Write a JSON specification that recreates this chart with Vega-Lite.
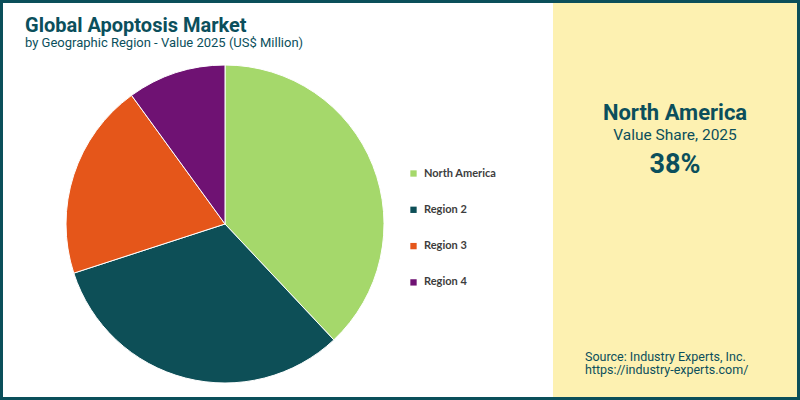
{
  "$schema": "https://vega.github.io/schema/vega-lite/v6.json",
  "background": "#0b4f5a",
  "padding": 3,
  "spacing": 0,
  "datasets": {
    "regions": [
      {"region": "North America", "share": 38, "idx": 1},
      {"region": "Region 2", "share": 32, "idx": 2},
      {"region": "Region 3", "share": 20, "idx": 3},
      {"region": "Region 4", "share": 10, "idx": 4}
    ],
    "labels": [
      {
        "title": "Global Apoptosis Market",
        "subtitle": "by Geographic Region - Value 2025 (US$ Million)",
        "focus": "North America",
        "metric": "Value Share, 2025",
        "value": "38%",
        "source": "Source: Industry Experts, Inc.",
        "url": "https://industry-experts.com/"
      }
    ]
  },
  "hconcat": [
    {
      "width": 550,
      "height": 394,
      "view": {"fill": "white", "stroke": null},
      "layer": [
        {
          "data": {"name": "regions"},
          "mark": {"type": "arc", "x": 222, "y": 221, "outerRadius": 159, "stroke": "white", "strokeWidth": 1},
          "encoding": {
            "theta": {"field": "share", "type": "quantitative", "stack": true},
            "order": {"field": "idx", "type": "quantitative"},
            "color": {
              "field": "region",
              "type": "nominal",
              "scale": {
                "domain": ["North America", "Region 2", "Region 3", "Region 4"],
                "range": ["#a5d86b", "#0d4f57", "#e5561a", "#6f1273"]
              },
              "legend": {
                "title": null,
                "orient": "none",
                "legendX": 405,
                "legendY": 165,
                "symbolType": "square",
                "symbolSize": 40,
                "symbolStrokeWidth": 0,
                "labelFont": "Lato",
                "labelFontWeight": "bold",
                "labelFontSize": 11,
                "labelColor": "#3d3d3d",
                "labelOffset": 5,
                "rowPadding": 24.3
              }
            }
          }
        },
        {
          "data": {"name": "labels"},
          "mark": {"type": "text", "x": 22, "y": 29, "align": "left", "baseline": "alphabetic", "font": "Roboto", "fontWeight": "bold", "fontSize": 20, "color": "#0b4f5c"},
          "encoding": {"text": {"field": "title", "type": "nominal"}}
        },
        {
          "data": {"name": "labels"},
          "mark": {"type": "text", "x": 22, "y": 44, "align": "left", "baseline": "alphabetic", "font": "Roboto", "fontSize": 13, "color": "#0b4f5c"},
          "encoding": {"text": {"field": "subtitle", "type": "nominal"}}
        }
      ]
    },
    {
      "width": 244,
      "height": 394,
      "view": {"fill": "#fdf1b1", "stroke": null},
      "data": {"name": "labels"},
      "layer": [
        {
          "mark": {"type": "text", "x": 122, "y": 117, "align": "center", "baseline": "alphabetic", "font": "Roboto", "fontWeight": "bold", "fontSize": 22, "color": "#0b4f5c"},
          "encoding": {"text": {"field": "focus", "type": "nominal"}}
        },
        {
          "mark": {"type": "text", "x": 122, "y": 137, "align": "center", "baseline": "alphabetic", "font": "Roboto", "fontSize": 15.5, "color": "#0b4f5c"},
          "encoding": {"text": {"field": "metric", "type": "nominal"}}
        },
        {
          "mark": {"type": "text", "x": 122, "y": 170, "align": "center", "baseline": "alphabetic", "font": "Roboto", "fontWeight": "bold", "fontSize": 27, "color": "#0b4f5c"},
          "encoding": {"text": {"field": "value", "type": "nominal"}}
        },
        {
          "mark": {"type": "text", "x": 32, "y": 358, "align": "left", "baseline": "alphabetic", "font": "Roboto", "fontSize": 12.5, "color": "#0b4f5c"},
          "encoding": {"text": {"field": "source", "type": "nominal"}}
        },
        {
          "mark": {"type": "text", "x": 32, "y": 371, "align": "left", "baseline": "alphabetic", "font": "Roboto", "fontSize": 12.5, "color": "#0b4f5c"},
          "encoding": {"text": {"field": "url", "type": "nominal"}}
        }
      ]
    }
  ],
  "config": {
    "view": {"stroke": null},
    "concat": {"spacing": 0}
  }
}
